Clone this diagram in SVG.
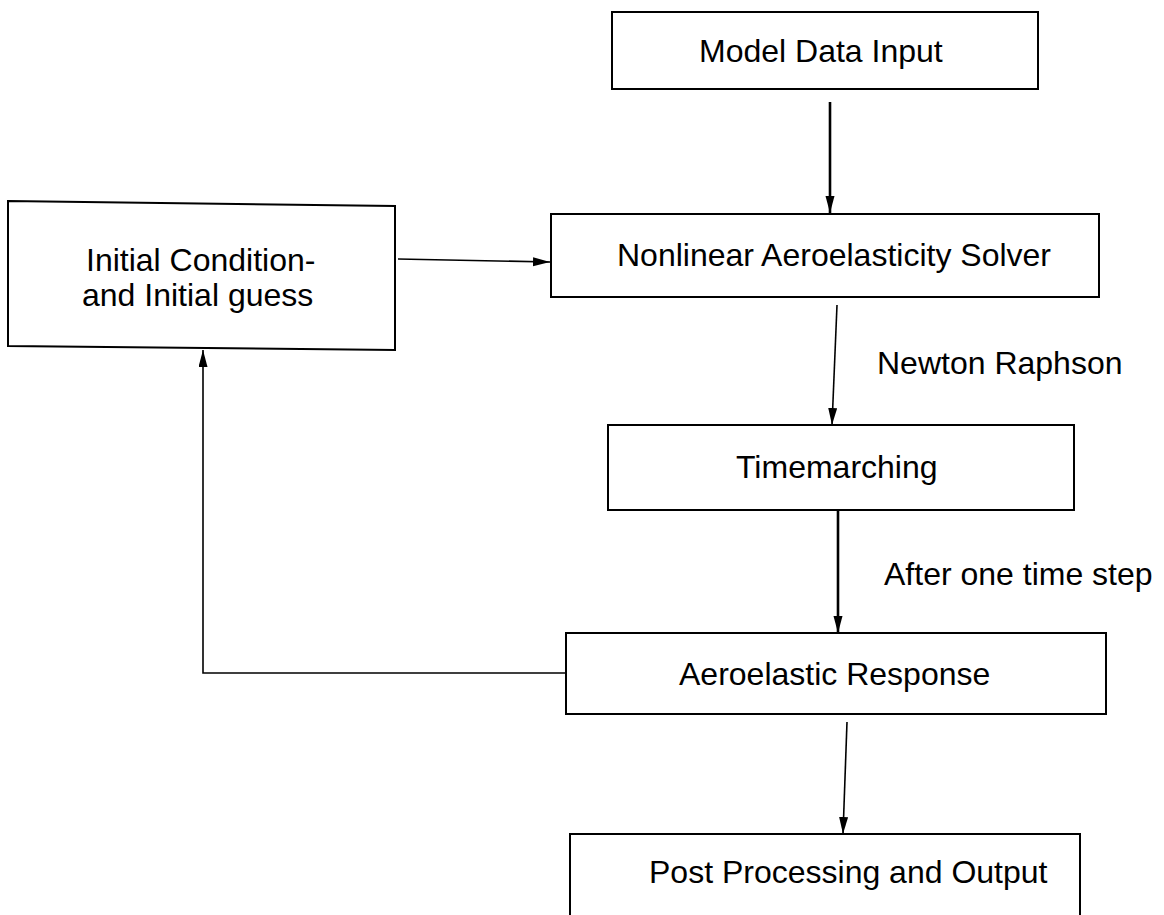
<svg xmlns="http://www.w3.org/2000/svg" width="1164" height="915" viewBox="0 0 1164 915">
<style>
.box{fill:#fff;stroke:#000;stroke-width:2}
.t{font-family:"Liberation Sans",Arial,sans-serif;font-size:32px;fill:#000}
.c{fill:none;stroke:#000;stroke-width:1.6}
.ck{fill:none;stroke:#000;stroke-width:2.6}
</style>
<defs>
<marker id="ah" markerUnits="userSpaceOnUse" markerWidth="18" markerHeight="10" refX="17" refY="4.5" orient="auto">
<path d="M0,0 L17,4.5 L0,9 z" fill="#000"/>
</marker>
</defs>
<rect width="1164" height="915" fill="#fff"/>
<g id="connectors">
<line class="ck" x1="830" y1="102" x2="830" y2="213" marker-end="url(#ah)"/>
<line class="c" x1="398" y1="259" x2="550" y2="262" marker-end="url(#ah)"/>
<line class="c" x1="837" y1="305" x2="832" y2="425" marker-end="url(#ah)"/>
<line class="ck" x1="838" y1="510" x2="838" y2="633" marker-end="url(#ah)"/>
<polyline class="c" points="570,673 203,673 203,350" marker-end="url(#ah)"/>
<line class="c" x1="847" y1="722" x2="843" y2="834" marker-end="url(#ah)"/>
</g>
<g id="model">
<rect class="box" x="612" y="12" width="426" height="77"/>
<text class="t" x="699" y="62">Model Data Input</text>
</g>
<g id="solver">
<rect class="box" x="551" y="214" width="548" height="83"/>
<text class="t" x="617" y="266">Nonlinear Aeroelasticity Solver</text>
</g>
<g id="initial">
<polygon class="box" points="8,201 395,206 395,350 8,346"/>
<text class="t" x="86" y="271">Initial Condition-</text>
<text class="t" x="82" y="306">and Initial guess</text>
</g>
<g id="newton-label">
<text class="t" x="877" y="374">Newton Raphson</text>
</g>
<g id="timemarching">
<rect class="box" x="608" y="425" width="466" height="85"/>
<text class="t" x="736" y="478">Timemarching</text>
</g>
<g id="step-label">
<text class="t" x="884" y="585">After one time step</text>
</g>
<g id="response">
<rect class="box" x="566" y="633" width="540" height="81"/>
<text class="t" x="679" y="685">Aeroelastic Response</text>
</g>
<g id="post">
<rect class="box" x="570" y="834" width="510" height="110"/>
<text class="t" x="649" y="883">Post Processing and Output</text>
</g>
</svg>
